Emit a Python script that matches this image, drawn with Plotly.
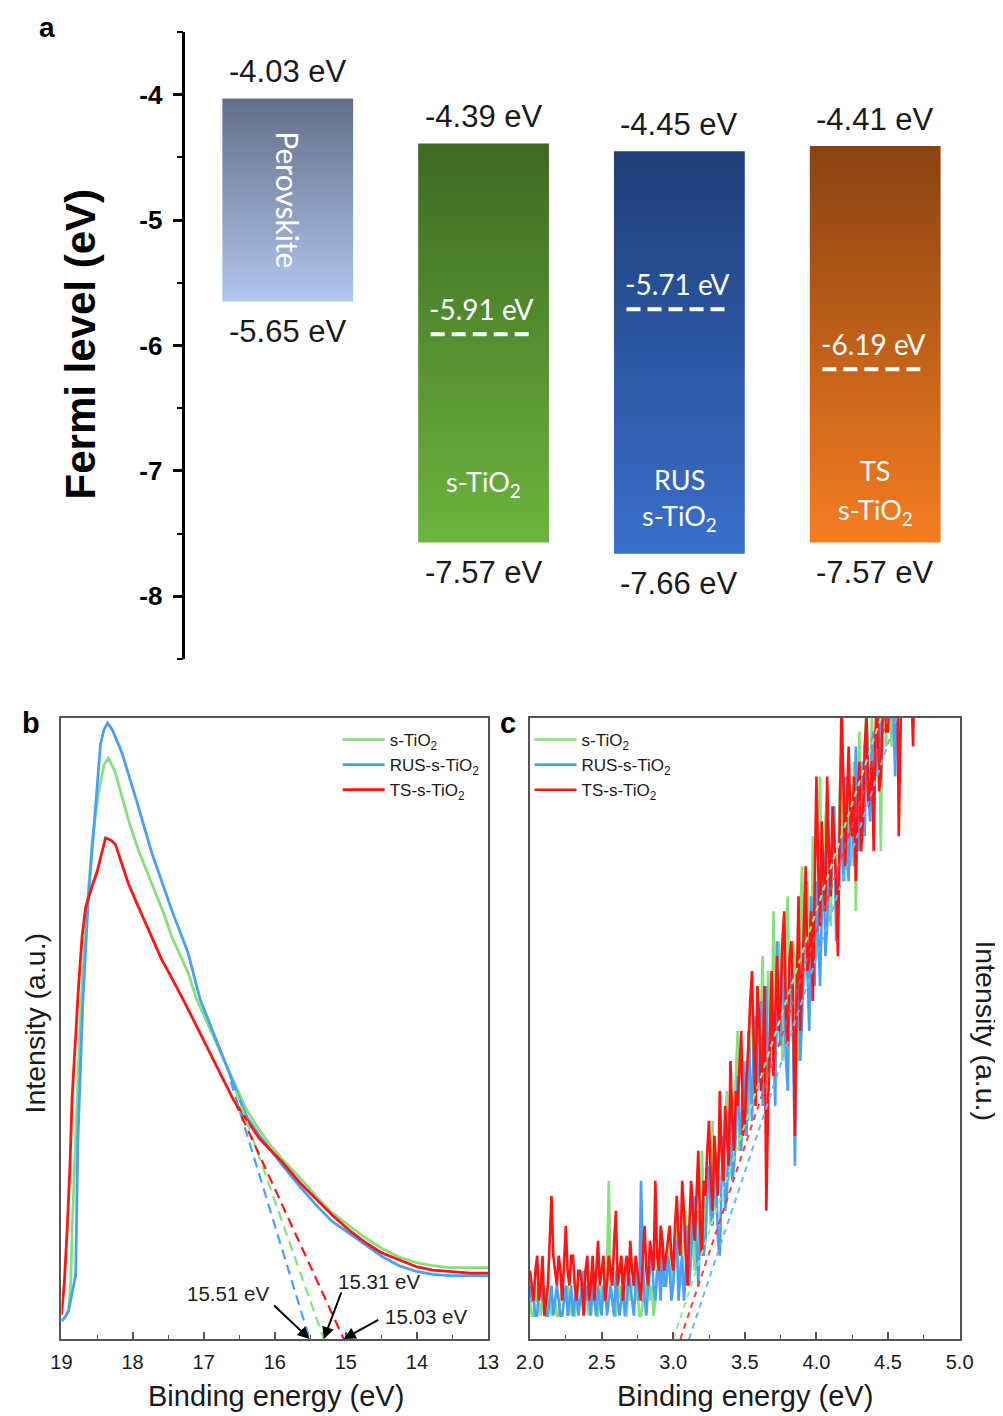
import numpy as np
import plotly.graph_objects as go

# ---------------- Panel a : energy levels ----------------
layer_names = ["Perovskite", "s-TiO2", "RUS s-TiO2", "TS s-TiO2"]
cb_edge = [-4.03, -4.39, -4.45, -4.41]
vb_edge = [-5.65, -7.57, -7.66, -7.57]
fermi_level = [None, -5.91, -5.71, -6.19]
fermi_ticks = [-8, -7, -6, -5, -4]

# ---------------- Panel b : UPS secondary-electron cutoff ----------------
b_green_E = [19.0, 18.95, 18.9, 18.87, 18.85, 18.8, 18.73, 18.65, 18.57, 18.48, 18.4, 18.34, 18.25, 18.15, 18.05,
             17.92, 17.8, 17.68, 17.55, 17.45, 17.33, 17.22, 17.1, 17.0, 16.865, 16.75, 16.63, 16.5, 16.4, 16.26,
             16.12, 16.05, 15.88, 15.65, 15.42, 15.2, 14.95, 14.7, 14.48, 14.25, 14.01, 13.78, 13.55, 13.3, 13.0]
b_green_I = [2.9, 3.5, 4.7, 9.0, 17.5, 31.7, 53.1, 68.0, 79.9, 87.9, 92.5, 93.5, 91.5, 87.4, 83.3,
             78.8, 75.3, 71.8, 68.2, 64.8, 61.8, 59.0, 54.7, 52.2, 48.8, 46.0, 42.9, 39.6, 37.0, 34.4,
             32.2, 31.0, 28.8, 26.0, 23.0, 20.4, 18.2, 16.1, 14.5, 13.2, 12.3, 11.8, 11.5, 11.5, 11.5]

b_blue_E = [19.0, 18.95, 18.9, 18.86, 18.83, 18.8, 18.77, 18.73, 18.7, 18.62, 18.52, 18.45, 18.4, 18.35, 18.28,
            18.15, 17.96, 17.73, 17.45, 17.22, 17.05, 16.865, 16.68, 16.54, 16.4, 16.2, 16.0, 15.88, 15.65, 15.42,
            15.2, 14.95, 14.7, 14.48, 14.25, 14.01, 13.78, 13.55, 13.3, 13.0]
b_blue_I = [2.9, 3.5, 4.5, 6.8, 8.5, 10.3, 31.7, 45.0, 54.2, 71.3, 85.2, 95.9, 98.2, 99.2, 98.0,
            94.4, 87.3, 78.3, 69.1, 62.2, 54.7, 49.3, 43.9, 39.7, 35.9, 32.5, 29.5, 27.8, 24.6, 21.6,
            19.0, 17.0, 14.9, 13.2, 11.8, 10.9, 10.4, 10.2, 10.2, 10.2]

b_red_E = [19.0, 18.96, 18.92, 18.88, 18.85, 18.8, 18.76, 18.71, 18.66, 18.57, 18.5, 18.45, 18.38, 18.3, 18.24,
           18.15, 18.06, 17.95, 17.82, 17.7, 17.59, 17.47, 17.36, 17.29, 17.1, 17.0, 16.865, 16.725, 16.585, 16.4,
           16.21, 16.05, 15.88, 15.65, 15.4, 15.18, 14.95, 14.72, 14.5, 14.25, 14.0, 13.78, 13.5, 13.25, 13.0]
b_red_I = [3.9, 9.0, 17.5, 28.0, 38.9, 49.5, 56.7, 64.8, 69.5, 72.9, 75.2, 77.5, 80.7, 80.3, 79.6,
           76.5, 73.4, 70.4, 67.0, 64.0, 61.1, 58.6, 56.3, 54.7, 50.4, 48.1, 45.0, 41.8, 38.6, 35.4,
           32.2, 30.3, 28.3, 25.2, 22.3, 19.8, 17.5, 15.5, 13.9, 12.7, 11.6, 11.1, 10.8, 10.6, 10.6]

# linear extrapolations (start point on curve -> cutoff on baseline)
b_tan_green_E, b_tan_green_I = [16.55, 15.31], [40.0, 0.0]
b_tan_blue_E, b_tan_blue_I = [16.62, 15.51], [41.5, 0.0]
b_tan_red_E, b_tan_red_I = [16.56, 15.03], [38.2, 0.0]
b_cutoffs = [15.51, 15.31, 15.03]
b_cutoff_labels = ["15.51 eV", "15.31 eV", "15.03 eV"]

# ---------------- Panel c : valence band edge (counts) ----------------
# samples on two interleaved energy grids: 2.0000 + 0.025k and 2.0125 + 0.025k
c_energy_a = np.round(2.0 + 0.025 * np.arange(109), 4)
c_energy_b = np.round(2.0125 + 0.025 * np.arange(108), 4)
c_green_a = [1, 0, 1, 0, 2, 1, 0, 1, 0, 2, 1, 0, 0, 1, 2, 0, 1, 3, 1, 0, 2, 1, 9, 1, 0, 2, 1, 0, 1, 3,
             2, 0, 1, 3, 2, 1, 4, 2, 3, 5,
             3, 6, 2, 5, 4, 8, 3, 7, 11, 5, 9, 13, 7, 12, 9, 15, 10, 14, 19, 12,
             17, 13, 21, 15, 18, 24, 16, 20, 27, 18, 22, 19, 28, 21, 24, 17, 30, 23, 26, 32,
             24, 36, 27, 35, 26, 33, 30, 38, 29, 35, 32, 27, 39, 34, 41, 36, 33, 42, 31, 41,
             44, 38, 46, 43, 47, 45, 48, 46, 49]
c_green_b = [0, 2, 1, 1, 0, 2, 1, 0, 1, 1, 2, 1, 0, 2, 1, 1, 0, 2, 0, 1, 1, 3, 2, 0, 1, 1, 0, 2, 2, 1,
             0, 1, 2, 1, 0, 3, 2, 3, 4, 2,
             5, 3, 4, 7, 2, 5, 6, 4, 8, 10, 6, 8, 10, 11, 13, 9, 12, 16, 11, 15,
             14, 19, 16, 22, 20, 15, 23, 18, 21, 25, 17, 26, 20, 25, 19, 27, 22, 29, 21, 24,
             30, 28, 33, 29, 32, 27, 35, 31, 36, 30, 37, 34, 33, 38, 35, 40, 37, 39, 42, 38,
             41, 45, 42, 46, 44, 47, 45, 48]
c_blue_a = [2, 1, 0, 2, 1, 0, 2, 1, 1, 0, 2, 1, 0, 2, 1, 3, 2, 0, 1, 2, 0, 2, 1, 1, 3, 0, 2, 1, 2, 0,
            3, 9, 1, 2, 4, 1, 3, 5, 2, 3,
            2, 5, 3, 1, 6, 4, 8, 2, 7, 5, 10, 6, 9, 4, 12, 8, 14, 10, 16, 11,
            15, 19, 13, 20, 16, 14, 22, 17, 19, 25, 18, 21, 15, 23, 10, 24, 20, 27, 19, 25,
            29, 22, 31, 26, 28, 34, 27, 32, 36, 29, 34, 38, 31, 37, 40, 33, 39, 42, 37, 43,
            41, 45, 36, 46, 44, 48, 46, 49, 48]
c_blue_b = [1, 0, 2, 1, 0, 1, 0, 2, 0, 1, 0, 2, 1, 0, 2, 1, 1, 2, 0, 1, 2, 0, 2, 0, 1, 1, 0, 3, 1, 2,
            1, 4, 0, 3, 2, 3, 1, 2, 4, 1,
            4, 1, 4, 3, 2, 7, 5, 6, 4, 8, 7, 11, 5, 9, 7, 13, 9, 12, 13, 17,
            12, 16, 18, 15, 21, 19, 16, 23, 14, 20, 24, 17, 22, 18, 21, 17, 25, 22, 28, 22,
            25, 27, 24, 30, 33, 25, 31, 29, 31, 35, 30, 33, 36, 32, 35, 38, 36, 40, 41, 39,
            44, 40, 43, 41, 47, 45, 48, 46]
c_red_a = [3, 1, 4, 2, 0, 2, 8, 3, 4, 1, 6, 2, 4, 1, 3, 0, 4, 2, 1, 5, 3, 1, 4, 2, 7, 3, 1, 4, 5, 2,
           3, 1, 6, 2, 4, 9, 3, 5, 4, 6,
           3, 8, 4, 7, 2, 9, 5, 11, 4, 8, 13, 7, 10, 15, 9, 12, 17, 11, 14, 19,
           13, 18, 23, 14, 20, 17, 7, 19, 16, 24, 21, 27, 18, 25, 12, 28, 22, 30, 24, 21,
           36, 26, 29, 36, 28, 31, 24, 41, 30, 38, 32, 29, 37, 33, 40, 35, 31, 42, 36, 44,
           39, 45, 43, 32, 46, 44, 47, 38, 48]
c_red_b = [2, 3, 1, 4, 1, 5, 4, 2, 3, 4, 3, 4, 2, 3, 2, 3, 1, 4, 3, 2, 4, 2, 3, 5, 2, 4, 3, 2, 3, 4,
           2, 4, 3, 5, 3, 4, 6, 3, 5, 4,
           6, 5, 9, 4, 6, 7, 8, 6, 9, 11, 9, 12, 8, 11, 14, 10, 13, 15, 17, 12,
           16, 21, 18, 22, 15, 22, 14, 23, 21, 19, 25, 20, 24, 21, 22, 19, 26, 23, 27, 29,
           30, 33, 27, 31, 34, 29, 33, 36, 34, 33, 36, 34, 31, 38, 34, 37, 39, 35, 40, 39,
           42, 40, 46, 41, 43, 46, 42, 45]
c_tan_green_E, c_tan_green_I = [3.00, 4.45], [-1.56, 39.9]
c_tan_red_E, c_tan_red_I = [3.05, 4.50], [-1.56, 39.9]
c_tan_blue_E, c_tan_blue_I = [3.11, 4.56], [-1.56, 39.9]

series_names = ["s-TiO<sub>2</sub>", "RUS-s-TiO<sub>2</sub>", "TS-s-TiO<sub>2</sub>"]

# ---------------- styles / placement helpers ----------------
ARIAL = "Liberation Sans, Arial, Helvetica, sans-serif"
CALIBRI = "Lato, Carlito, Calibri, sans-serif"
GREEN, BLUE, RED = "#86e07d", "#4aa0f7", "#ff1414"
bar_top = ["#636f89", "#3e6a22", "#1f3e78", "#8a4312"]
bar_bottom = ["#b1c5ee", "#6db43f", "#3a6fcc", "#f57d21"]
W, H = 1003, 1416


def sx(px):  # horizontal position in the photographed page -> paper fraction
    return (px - 21.5) / 0.973 / W


def sy(py):  # vertical position in the photographed page -> paper fraction
    return 1 - (py - 9) / H


def merged(ea, va, eb, vb):
    e = np.concatenate([ea, eb])
    v = np.concatenate([va, vb])
    order = np.argsort(e)
    return e[order], v[order]


fig = go.Figure()

# ---- panel a bars (gradient-filled rectangles) ----
half_w = 0.334
for i in range(len(layer_names)):
    x0, x1 = i - half_w, i + half_w
    fig.add_trace(go.Scatter(
        x=[x0, x1, x1, x0, x0],
        y=[cb_edge[i], cb_edge[i], vb_edge[i], vb_edge[i], cb_edge[i]],
        mode="lines", fill="toself", line=dict(width=0, color=bar_top[i]),
        fillgradient=dict(type="vertical", colorscale=[[0, bar_bottom[i]], [1, bar_top[i]]]),
        xaxis="x", yaxis="y", showlegend=False, hoverinfo="skip"))
for i, f in enumerate(fermi_level):
    if f is None:
        continue
    fig.add_trace(go.Scatter(
        x=[i - 0.27, i + 0.24], y=[f, f], mode="lines",
        line=dict(color="white", width=4, dash="14px,7px"),
        xaxis="x", yaxis="y", showlegend=False, hoverinfo="skip"))

# ---- panel b ----
b_series = [(b_green_E, b_green_I, GREEN), (b_blue_E, b_blue_I, BLUE), (b_red_E, b_red_I, RED)]
for (ex, iy, col), name in zip(b_series, series_names):
    fig.add_trace(go.Scatter(x=ex, y=iy, mode="lines", name=name, line=dict(color=col, width=2.8),
                             xaxis="x2", yaxis="y2", legend="legend"))
for ex, iy, col in [(b_tan_blue_E, b_tan_blue_I, BLUE), (b_tan_green_E, b_tan_green_I, GREEN),
                    (b_tan_red_E, b_tan_red_I, RED)]:
    fig.add_trace(go.Scatter(x=ex, y=iy, mode="lines", line=dict(color=col, width=2.2, dash="10px,6px"),
                             xaxis="x2", yaxis="y2", showlegend=False))

# ---- panel c ----
c_sets = [(c_green_a, c_green_b, GREEN), (c_blue_a, c_blue_b, BLUE), (c_red_a, c_red_b, RED)]
for (va, vb, col), name in zip(c_sets, series_names):
    ex, vy = merged(c_energy_a, va, c_energy_b, vb)
    fig.add_trace(go.Scatter(x=ex, y=vy, mode="lines", name=name, line=dict(color=col, width=2.6),
                             xaxis="x3", yaxis="y3", legend="legend2"))
for ex, iy, col in [(c_tan_green_E, c_tan_green_I, "#9be891"), (c_tan_red_E, c_tan_red_I, "#ff3b3b"),
                    (c_tan_blue_E, c_tan_blue_I, "#6cb4ff")]:
    fig.add_trace(go.Scatter(x=ex, y=iy, mode="lines", line=dict(color=col, width=2, dash="6px,5px"),
                             xaxis="x3", yaxis="y3", showlegend=False))

ann = []
# panel a labels
for i in range(len(layer_names)):
    ann.append(dict(x=i, y=cb_edge[i], xref="x", yref="y", text=f"{cb_edge[i]:.2f} eV", showarrow=False,
                    yshift=27, font=dict(family=ARIAL, size=31, color="#1a1a1a")))
    ann.append(dict(x=i, y=vb_edge[i], xref="x", yref="y", text=f"{vb_edge[i]:.2f} eV", showarrow=False,
                    yshift=-30, font=dict(family=ARIAL, size=31, color="#1a1a1a")))
    if fermi_level[i] is not None:
        ann.append(dict(x=i - 0.01, y=fermi_level[i], xref="x", yref="y", text=f"{fermi_level[i]:.2f} eV",
                        showarrow=False, yshift=25, font=dict(family=CALIBRI, size=28, color="white")))
inner = [(0, (cb_edge[0] + vb_edge[0]) / 2, "Perovskite", 90, 30),
         (1, -7.10, "s-TiO<sub>2</sub>", 0, 27),
         (2, -7.065, "RUS", 0, 27), (2, -7.37, "s-TiO<sub>2</sub>", 0, 27),
         (3, -7.00, "TS", 0, 27), (3, -7.32, "s-TiO<sub>2</sub>", 0, 27)]
for x, y, t, ang, fs in inner:
    ann.append(dict(x=x, y=y, xref="x", yref="y", text=t, textangle=ang, showarrow=False,
                    font=dict(family=CALIBRI, size=fs, color="white")))


def paper_text(px, py, text, size, angle=0, color="#1a1a1a"):
    return dict(x=sx(px), y=sy(py), xref="paper", yref="paper", text=text, textangle=angle,
                xanchor="center", yanchor="middle", showarrow=False,
                font=dict(family=ARIAL, size=size, color=color))


ann.append(paper_text(80, 345, "<b>Fermi level (eV)</b>", 42, -90, "black"))
ann.append(paper_text(47, 28, "<b>a</b>", 28, 0, "black"))
ann.append(paper_text(31, 724, "<b>b</b>", 29, 0, "black"))
ann.append(paper_text(508, 724, "<b>c</b>", 29, 0, "black"))
ann.append(paper_text(276, 1397, "Binding energy (eV)", 29))
ann.append(paper_text(745, 1397, "Binding energy (eV)", 29))
ann.append(paper_text(35, 1024, "Intensity (a.u.)", 28.5, -90))
ann.append(paper_text(986, 1032, "Intensity (a.u.)", 28.5, 90))

# cutoff arrows + labels (panel b)
arrow_offsets = [(-37, -35), (18, -48), (36, -20)]
label_pos = [(16.66, 7.4), (14.53, 9.2), (13.87, 3.6)]
for e, (ax, ay), lab, (lx, ly) in zip(b_cutoffs, arrow_offsets, b_cutoff_labels, label_pos):
    ann.append(dict(x=e, y=0, xref="x2", yref="y2", text="", showarrow=True, ax=ax, ay=ay,
                    arrowhead=2, arrowsize=1.2, arrowwidth=2, arrowcolor="black", standoff=0))
    ann.append(dict(x=lx, y=ly, xref="x2", yref="y2", text=lab, showarrow=False,
                    font=dict(family=ARIAL, size=20.5, color="#222")))

frame = dict(showline=True, mirror=True, linecolor="#555", linewidth=1.6, showgrid=False, zeroline=False)
fig.update_layout(
    width=W, height=H, margin=dict(l=0, r=0, t=0, b=0),
    paper_bgcolor="white", plot_bgcolor="rgba(0,0,0,0)",
    xaxis=dict(domain=[sx(185), 1.0], range=[-0.523, 3.622], visible=False, anchor="y", fixedrange=True),
    yaxis=dict(domain=[sy(660), sy(33)], range=[-8.5, -3.5], anchor="x",
               tickvals=fermi_ticks, ticktext=[str(t) for t in fermi_ticks],
               showline=True, linewidth=2.5, linecolor="black", showgrid=False, zeroline=False,
               ticks="outside", ticklen=10, tickwidth=2.5, tickcolor="black", ticklabelstandoff=5,
               minor=dict(dtick=0.5, ticks="outside", ticklen=6, tickwidth=2, tickcolor="black"),
               tickfont=dict(family=ARIAL, size=26, color="black", weight="bold")),
    xaxis2=dict(domain=[sx(61), sx(488)], range=[19, 13], anchor="y2", tickvals=[13, 14, 15, 16, 17, 18, 19],
                ticks="inside", ticklen=7, tickwidth=1.5, tickcolor="#555", ticklabelstandoff=4,
                minor=dict(dtick=0.5, ticks="inside", ticklen=4, tickwidth=1.2, tickcolor="#555"),
                tickfont=dict(family=ARIAL, size=20, color="#1a1a1a"), **frame),
    yaxis2=dict(domain=[sy(1340), sy(719)], range=[0, 100], anchor="x2", showticklabels=False,
                ticks="", **frame),
    xaxis3=dict(domain=[sx(530), sx(960)], range=[2.0, 5.0], anchor="y3", dtick=0.5, tick0=2.0,
                tickformat=".1f", ticks="inside", ticklen=7, tickwidth=1.5, tickcolor="#555",
                ticklabelstandoff=4,
                minor=dict(dtick=0.25, ticks="inside", ticklen=4, tickwidth=1.2, tickcolor="#555"),
                tickfont=dict(family=ARIAL, size=20, color="#1a1a1a"), **frame),
    yaxis3=dict(domain=[sy(1340), sy(719)], range=[-1.56, 39.9], anchor="x3", showticklabels=False,
                ticks="", **frame),
    legend=dict(x=sx(337.5), y=1 - 714 / H, xanchor="left", yanchor="top", bgcolor="rgba(0,0,0,0)",
                font=dict(family=ARIAL, size=17, color="#1a1a1a"), tracegroupgap=0, itemwidth=42),
    legend2=dict(x=sx(529.5), y=1 - 714 / H, xanchor="left", yanchor="top", bgcolor="rgba(0,0,0,0)",
                 font=dict(family=ARIAL, size=17, color="#1a1a1a"), tracegroupgap=0, itemwidth=42),
    annotations=ann,
)

fig.write_html("out.html")
